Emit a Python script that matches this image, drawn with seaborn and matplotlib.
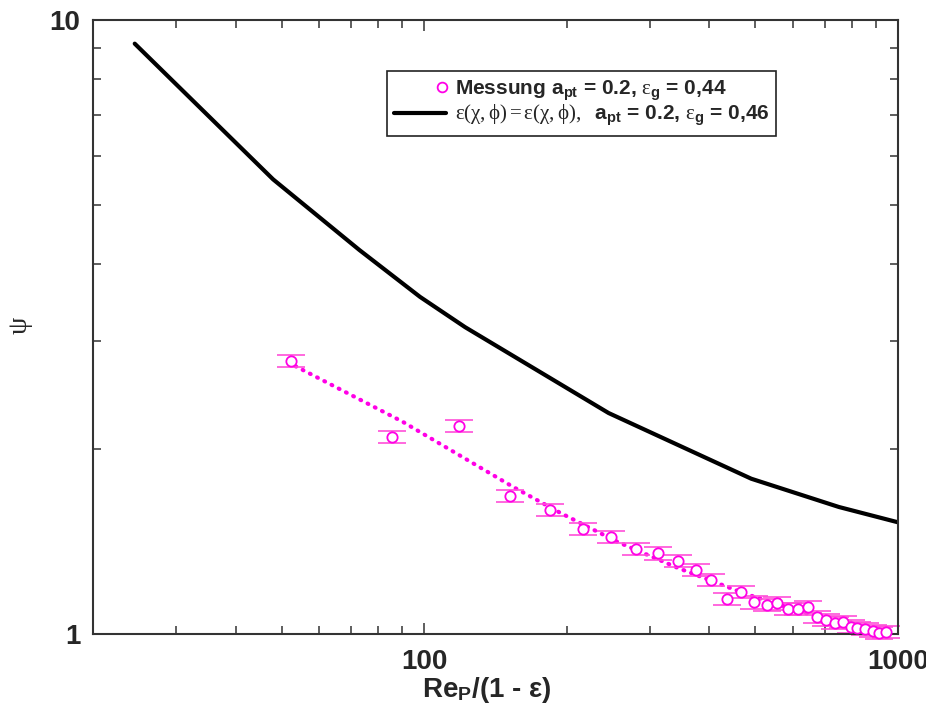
import numpy as np
import pandas as pd
import matplotlib
matplotlib.use("Agg")
import matplotlib.pyplot as plt
import seaborn as sns
from matplotlib.lines import Line2D
from matplotlib.legend_handler import HandlerLine2D
from matplotlib.ticker import LogLocator, NullFormatter, FixedLocator, FixedFormatter

# model curve eps(chi,phi), a_pt = 0.2, eps_g = 0.46
model_x = [24.5, 48, 73, 98, 122, 245, 490, 750, 1000]
model_psi = [9.15, 5.5, 4.22, 3.54, 3.16, 2.29, 1.79, 1.61, 1.52]

# dotted fit through the measurements
fit_x = [53.5, 90, 154, 194, 256, 343, 477, 677, 900]
fit_psi = [2.73, 2.217, 1.736, 1.574, 1.412, 1.281, 1.162, 1.066, 1.0]

# measurement a_pt = 0.2, eps_g = 0.44
meas_x = [52.4, 85.6, 118.7, 151.6, 184, 216.2, 248.3, 279.8, 311.9, 343.2,
          374.1, 403.6, 436.4, 465.6, 496.6, 528, 556.6, 586, 615, 646,
          674, 704, 735.5, 764.6, 795, 821, 851, 884, 912.6, 942.8]
meas_psi = [2.784, 2.094, 2.183, 1.680, 1.592, 1.483, 1.437, 1.375, 1.353, 1.315,
            1.271, 1.224, 1.139, 1.172, 1.126, 1.115, 1.122, 1.097, 1.097, 1.108,
            1.065, 1.054, 1.043, 1.045, 1.028, 1.022, 1.019, 1.012, 1.005, 1.0075]
meas_err = [0.064, 0.048, 0.050, 0.039, 0.037, 0.034, 0.033, 0.032, 0.031, 0.030,
            0.029, 0.028, 0.026, 0.027, 0.026, 0.026, 0.026, 0.025, 0.025, 0.025,
            0.024, 0.024, 0.024, 0.024, 0.024, 0.023, 0.023, 0.023, 0.023, 0.023]

sns.set_style("ticks")
plt.rcParams["font.family"] = ["Liberation Sans", "DejaVu Sans"]
plt.rcParams["mathtext.fontset"] = "custom"
plt.rcParams["mathtext.rm"] = "Liberation Serif"
plt.rcParams["mathtext.it"] = "Liberation Serif:italic"
plt.rcParams["mathtext.bf"] = "Liberation Sans:bold"

magenta = "#ff00e6"
pink = "#ff4fd8"


# gnuplot-like key: point sits at the right end of the sample area
class RightPoint(HandlerLine2D):
    def get_xdata(self, legend, xdescent, ydescent, width, height, fontsize):
        x = np.array([-xdescent + width - 0.2 * fontsize])
        return x, x


fig = plt.figure(figsize=(9.26, 7.03), dpi=100)
ax = fig.add_axes([0.1004, 0.0982, 0.8694, 0.8734])

model = pd.DataFrame({"x": model_x, "psi": model_psi})
fit = pd.DataFrame({"x": fit_x, "psi": fit_psi})
meas = pd.DataFrame({"x": meas_x, "psi": meas_psi, "err": meas_err})

sns.lineplot(data=model, x="x", y="psi", ax=ax, color="black", lw=3,
             sort=False, legend=False)
sns.lineplot(data=fit, x="x", y="psi", ax=ax, color=magenta, lw=3,
             sort=False, legend=False)
ax.lines[-1].set_linestyle((0, (0.2, 1.75)))
ax.lines[-1].set_dash_capstyle("round")

ax.errorbar(meas["x"], meas["psi"], yerr=meas["err"], fmt="none",
            ecolor=pink, elinewidth=1.2, capsize=10, capthick=1.2, clip_on=False)
sns.scatterplot(data=meas, x="x", y="psi", ax=ax, marker="o", s=55,
                facecolor="white", edgecolor=magenta, linewidth=1.3,
                clip_on=False, zorder=5, legend=False)

ax.set_xscale("log")
ax.set_yscale("log")
ax.set_xlim(20, 1000)
ax.set_ylim(1, 10)

ax.xaxis.set_major_locator(FixedLocator([100, 1000]))
ax.xaxis.set_major_formatter(FixedFormatter(["100", "1000"]))
ax.xaxis.set_minor_locator(LogLocator(base=10, subs=np.arange(2, 10)))
ax.xaxis.set_minor_formatter(NullFormatter())
ax.yaxis.set_major_locator(FixedLocator([1, 10]))
ax.yaxis.set_major_formatter(FixedFormatter(["1", "10"]))
ax.yaxis.set_minor_locator(LogLocator(base=10, subs=np.arange(2, 10)))
ax.yaxis.set_minor_formatter(NullFormatter())

ax.tick_params(which="both", direction="in", top=True, right=True,
               color="#333333", width=1.1)
ax.tick_params(which="major", length=8, labelsize=20)
ax.tick_params(which="minor", length=6)
ax.tick_params(axis="x", which="major", pad=11)
ax.tick_params(axis="y", which="major", pad=9)
for lab in ax.get_xticklabels() + ax.get_yticklabels():
    lab.set_fontweight("bold")
for sp in ax.spines.values():
    sp.set_linewidth(1.5)
    sp.set_color("#333333")

ax.set_xlabel(r"Re$_{\mathbf{P}}$/(1 - ε)", fontsize=20, fontweight="bold")
ax.xaxis.set_label_coords(0.489, -0.067)
ax.set_ylabel("ψ", fontsize=20, family=["Liberation Serif", "DejaVu Serif"],
              rotation=90)
ax.yaxis.set_label_coords(-0.075, 0.503)

h_meas = Line2D([], [], ls="none", marker="o", markersize=7, markerfacecolor="white",
                markeredgecolor=magenta, markeredgewidth=1.3)
h_model = Line2D([], [], color="black", lw=3)
labels = [
    r"Messung $\mathbf{a_{pt}}$ = 0.2, $\mathrm{\varepsilon}_{\mathbf{g}}$ = 0,44",
    r"$\mathrm{\varepsilon(\chi,\phi) = \varepsilon(\chi,\phi),}$  $\mathbf{a_{pt}}$ = 0.2, $\mathrm{\varepsilon}_{\mathbf{g}}$ = 0,46",
]
leg = ax.legend([h_meas, h_model], labels, loc="upper left",
                bbox_to_anchor=(0.365, 0.917), borderaxespad=0, frameon=True,
                fancybox=False, framealpha=1, edgecolor="#222222",
                handlelength=2.5, handletextpad=0.4, borderpad=0.35,
                labelspacing=0.0, handler_map={h_meas: RightPoint()},
                prop={"size": 15, "weight": "bold"})
leg.get_frame().set_linewidth(1.2)

fig.savefig("out.png", dpi=100)
